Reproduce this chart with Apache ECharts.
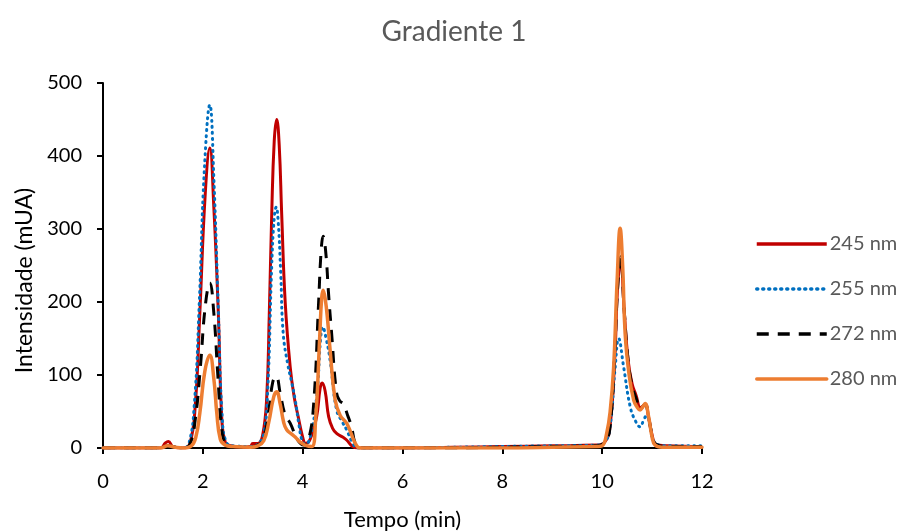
<!DOCTYPE html>
<html><head><meta charset="utf-8">
<script src="https://cdn.jsdelivr.net/npm/echarts@6/dist/echarts.min.js"></script>
<style>html,body{margin:0;padding:0;background:#fff}#c{width:908px;height:532px}</style>
</head><body><div id="c"></div>
<script>
var titleText = 'Gradiente 1';
var xName = 'Tempo (min)';
var yName = 'Intensidade (mUA)';
var seriesNames = ['245 nm', '255 nm', '272 nm', '280 nm'];

var s245 = [[0,0],[1.15,0],[1.25,7],[1.31,9],[1.4,2],[1.6,0],[1.74,6],[1.85,60],[1.94,185],[2.05,350],[2.14,411],[2.22,330],[2.31,185],[2.38,40],[2.45,8],[2.55,3],[2.8,1],[2.95,2],[3.0,6],[3.1,6],[3.2,18],[3.28,70],[3.33,180],[3.38,320],[3.43,420],[3.48,450],[3.53,415],[3.58,320],[3.65,200],[3.75,111],[3.83,70],[3.91,43],[4.0,15],[4.06,6],[4.15,12],[4.28,43],[4.35,82],[4.39,89],[4.45,78],[4.52,43],[4.6,27],[4.68,20],[4.8,15],[4.88,11],[5.0,2],[5.1,0],[6,0],[7,1],[8,2],[9,3],[9.9,4],[10.05,8],[10.15,25],[10.25,120],[10.31,220],[10.37,258],[10.44,190],[10.52,120],[10.6,88],[10.68,72],[10.77,55],[10.86,60],[10.93,42],[11.0,18],[11.08,5],[11.3,3],[12,2]];
var s255 = [[0,0],[1.15,0],[1.3,3],[1.45,1],[1.6,0],[1.72,6],[1.83,60],[1.93,200],[2.03,380],[2.14,470],[2.22,370],[2.31,190],[2.39,40],[2.47,8],[2.6,3],[2.95,2],[3.1,5],[3.22,20],[3.3,80],[3.38,250],[3.43,315],[3.47,330],[3.51,310],[3.56,240],[3.61,157],[3.7,115],[3.78,90],[3.85,66],[3.93,30],[3.99,10],[4.06,5],[4.15,15],[4.28,70],[4.36,150],[4.4,166],[4.47,150],[4.55,120],[4.68,52],[4.8,35],[4.88,25],[5.0,7],[5.1,0],[6,0],[7,1],[8,2],[9,3],[9.9,4],[10.05,8],[10.15,25],[10.26,110],[10.33,150],[10.43,111],[10.56,57],[10.66,38],[10.76,29],[10.83,38],[10.89,45],[10.96,30],[11.05,8],[11.3,3],[12,3]];
var s272 = [[0,0],[1.15,0],[1.3,3],[1.45,1],[1.6,0],[1.74,5],[1.85,40],[1.95,110],[2.05,195],[2.14,226],[2.22,185],[2.3,100],[2.38,25],[2.46,6],[2.6,2],[2.95,1],[3.1,4],[3.2,10],[3.3,40],[3.4,90],[3.47,98],[3.55,75],[3.65,45],[3.75,34],[3.9,11],[4.02,4],[4.12,12],[4.22,60],[4.32,200],[4.37,270],[4.41,290],[4.46,270],[4.52,210],[4.58,157],[4.68,75],[4.75,64],[4.81,61],[4.9,45],[4.98,29],[5.05,7],[5.15,0],[6,0],[7,0],[8,1],[9,2],[9.9,3],[10.05,8],[10.15,25],[10.25,130],[10.31,220],[10.37,262],[10.44,190],[10.52,120],[10.6,85],[10.68,68],[10.77,54],[10.86,60],[10.93,42],[11.0,18],[11.08,5],[11.3,2],[12,2]];
var s280 = [[0,0],[1.15,0],[1.3,3],[1.45,1],[1.6,0],[1.77,3],[1.86,15],[1.94,48],[2.04,105],[2.14,127],[2.22,95],[2.28,48],[2.35,12],[2.45,4],[2.6,2],[2.95,1],[3.1,3],[3.22,10],[3.32,35],[3.42,70],[3.48,77],[3.55,60],[3.62,35],[3.68,25],[3.78,19],[3.85,15],[3.95,8],[4.05,4],[4.18,2],[4.26,40],[4.34,150],[4.38,205],[4.41,216],[4.45,205],[4.5,175],[4.55,134],[4.65,66],[4.75,45],[4.88,34],[4.97,20],[5.05,7],[5.15,0],[6,0],[7,0],[8,0],[9,1],[9.9,2],[10.0,3],[10.09,20],[10.16,50],[10.23,111],[10.3,230],[10.36,301],[10.41,250],[10.46,157],[10.54,100],[10.63,66],[10.7,56],[10.76,52],[10.81,56],[10.86,61],[10.93,43],[11.0,15],[11.06,4],[11.2,1],[12,1]];

var xTicks = {min: 0, max: 12, interval: 2};
var yTicks = {min: 0, max: 500, interval: 100};

var FONT = 'Lato';
var chart = echarts.init(document.getElementById('c'), null, {renderer: 'canvas'});
function ser(name, data, color, width, type, cap) {
  return {
    name: name, type: 'line', data: data, showSymbol: false, symbol: 'none',
    smooth: 0.45, animation: false,
    lineStyle: {color: color, width: width, type: type || 'solid', cap: cap || 'butt', join: 'round'},
    itemStyle: {color: color}
  };
}
chart.setOption({
  animation: false,
  backgroundColor: '#fff',
  title: {text: titleText, left: 'center', top: 13,
    textStyle: {fontFamily: FONT, fontSize: 28, fontWeight: 'normal', color: '#595959'}},
  legend: {
    orient: 'vertical', left: 750, top: 229,
    itemWidth: 70, itemHeight: 20, itemGap: 25,
    data: seriesNames,
    itemStyle: {opacity: 0},
    lineStyle: {width: 3.5},
    textStyle: {fontFamily: FONT, fontSize: 20, color: '#595959', padding: [0, 0, 0, -2]}
  },
  grid: {left: 103, right: 206, top: 83, bottom: 84, containLabel: false, outerBoundsMode: 'none'},
  xAxis: {
    type: 'value', min: xTicks.min, max: xTicks.max, interval: xTicks.interval,
    name: xName, nameLocation: 'middle', nameGap: 61,
    nameTextStyle: {fontFamily: FONT, fontSize: 22, color: '#000'},
    axisLine: {show: true, onZero: false, lineStyle: {color: '#000', width: 2}},
    axisTick: {show: true, length: 6, lineStyle: {color: '#000', width: 2}},
    axisLabel: {fontFamily: FONT, fontSize: 20, color: '#000', margin: 24},
    splitLine: {show: false}
  },
  yAxis: {
    type: 'value', min: yTicks.min, max: yTicks.max, interval: yTicks.interval,
    name: yName, nameLocation: 'middle', nameGap: 66,
    nameTextStyle: {fontFamily: FONT, fontSize: 23, color: '#000', padding: [0, 30, 0, 0]},
    axisLine: {show: true, lineStyle: {color: '#000', width: 2}},
    axisTick: {show: true, length: 6, lineStyle: {color: '#000', width: 2}},
    axisLabel: {fontFamily: FONT, fontSize: 20, color: '#000', margin: 21},
    splitLine: {show: false}
  },
  series: [
    ser(seriesNames[0], s245, '#C00000', 3),
    ser(seriesNames[1], s255, '#0070C0', 3, [1, 5], 'round'),
    ser(seriesNames[2], s272, '#000000', 3, [12, 9]),
    ser(seriesNames[3], s280, '#ED7D31', 3.5, 'solid', 'round')
  ]
});
</script></body></html>
